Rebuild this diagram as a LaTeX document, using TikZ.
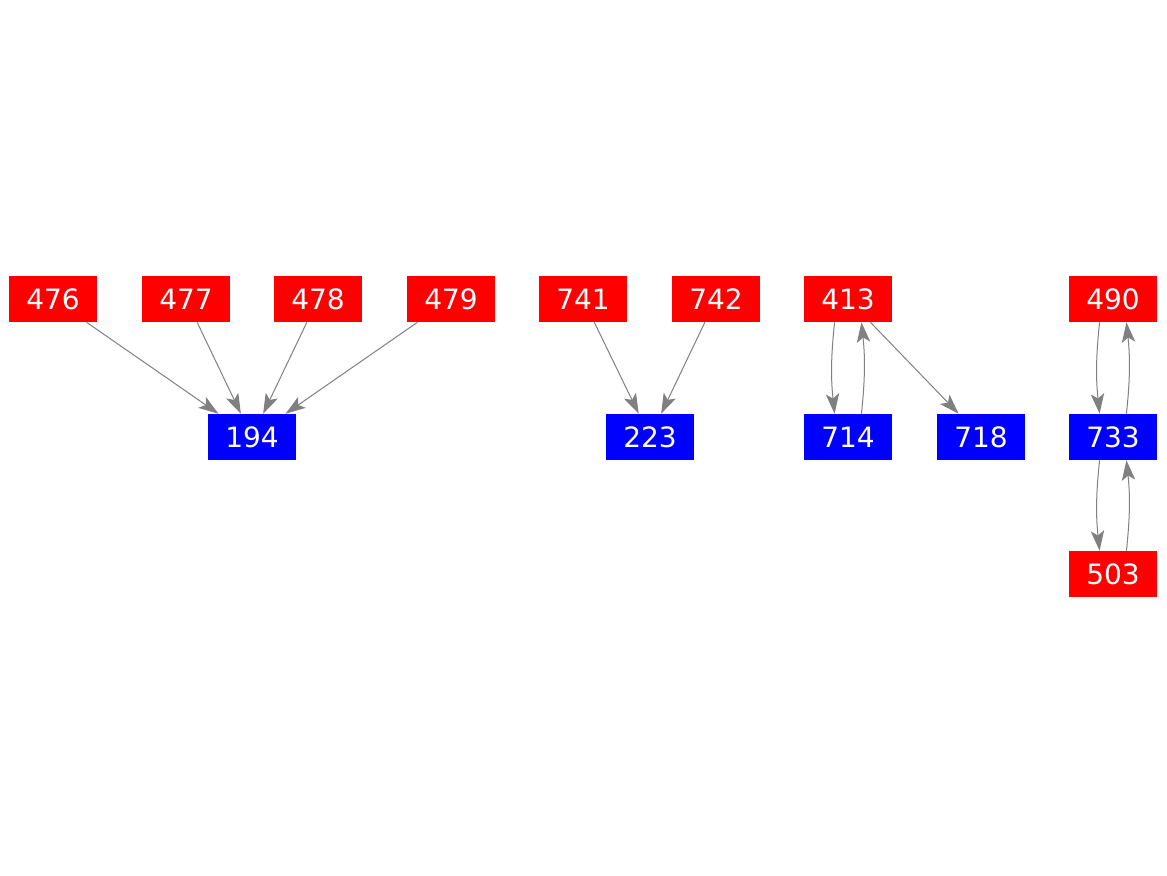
\documentclass[tikz,border=0pt]{standalone}
\usepackage{fontspec}
\setmainfont{DejaVu Sans}
\usetikzlibrary{arrows.meta, positioning}

\begin{document}
\begin{tikzpicture}[x=0.75pt, y=0.75pt, >={Stealth[length=15pt, width=10pt, inset=3.5pt]},
    srcbox/.style={rectangle, fill=red, text=white, minimum width=66pt, minimum height=34.5pt,
        inner sep=0pt, font=\fontsize{21}{25}\selectfont},
    dstbox/.style={srcbox, fill=blue},
    link/.style={->, draw=gray, line width=0.75pt}]
    % --- khung ngoai ---
    \useasboundingbox (0,0) rectangle (1167,-875);

    % --- hang tren: cac nut do ---
    \node[srcbox] (n476) at (53,-299) {476};
    \node[srcbox] (n477) at (186,-299) {477};
    \node[srcbox] (n478) at (318,-299) {478};
    \node[srcbox] (n479) at (451,-299) {479};
    \node[srcbox] (n741) at (583,-299) {741};
    \node[srcbox] (n742) at (716,-299) {742};
    \node[srcbox] (n413) at (848,-299) {413};
    \node[srcbox] (n490) at (1113,-299) {490};

    % --- hang duoi: cac nut xanh ---
    \node[dstbox] (n194) at (252,-437) {194};
    \node[dstbox] (n223) at (650,-437) {223};
    \node[dstbox] (n714) at (848,-437) {714};
    \node[dstbox] (n718) at (981,-437) {718};
    \node[dstbox] (n733) at (1113,-437) {733};
    \node[srcbox] (n503) at (1113,-574) {503};

    % --- cac canh thang ---
    \draw[link] (n476) -- (n194);
    \draw[link] (n477) -- (n194);
    \draw[link] (n478) -- (n194);
    \draw[link] (n479) -- (n194);
    \draw[link] (n741) -- (n223);
    \draw[link] (n742) -- (n223);
    \draw[link] (n413) -- (n718);

    % --- cac canh cong hai chieu ---
    \draw[link] (n413.-120) to[bend right=6] (n714.120);
    \draw[link] (n714.60) to[bend right=6] (n413.-60);
    \draw[link] (n490.-120) to[bend right=6] (n733.120);
    \draw[link] (n733.60) to[bend right=6] (n490.-60);
    \draw[link] (n733.-120) to[bend right=6] (n503.120);
    \draw[link] (n503.60) to[bend right=6] (n733.-60);
\end{tikzpicture}
\end{document}
